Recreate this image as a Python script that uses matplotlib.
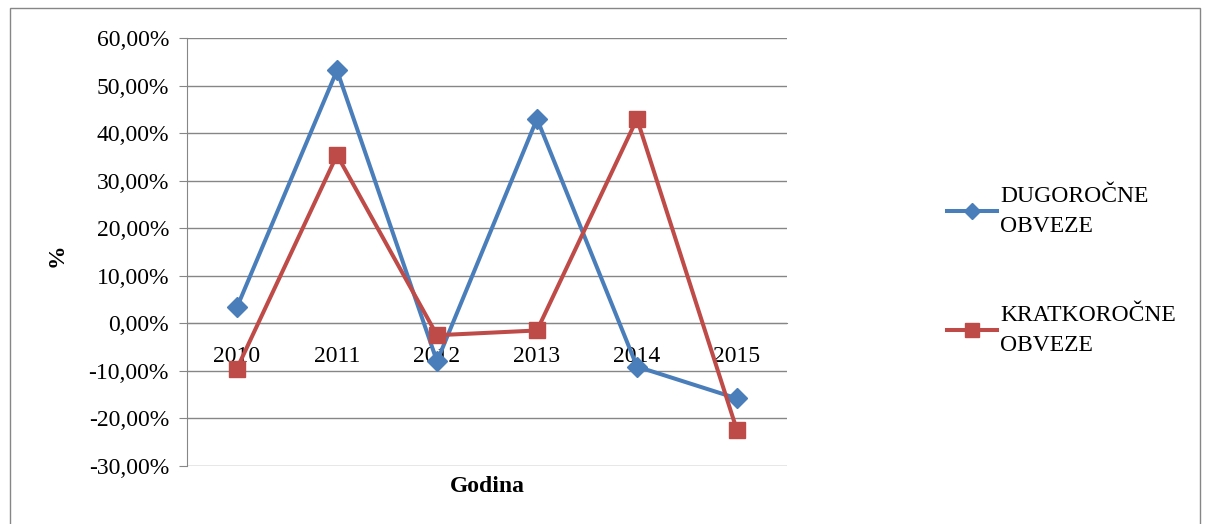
import matplotlib
matplotlib.use('Agg')
import matplotlib.pyplot as plt
from matplotlib.patches import Rectangle
from matplotlib.ticker import FuncFormatter, MultipleLocator

years = ['2010', '2011', '2012', '2013', '2014', '2015']
dugorocne = [3.4, 53.2, -8.0, 43.0, -9.1, -15.8]
kratkorocne = [-9.5, 35.4, -2.5, -1.5, 43.0, -22.5]
series_names = ['DUGOROČNE\nOBVEZE', 'KRATKOROČNE\nOBVEZE']

plt.rcParams['font.family'] = ['Liberation Serif', 'DejaVu Serif']
FS = 17

fig = plt.figure(figsize=(12.06, 5.24), dpi=100)
ax = fig.add_axes([187 / 1206, 1 - 466 / 524, 600 / 1206, 428 / 524])

x = list(range(len(years)))
ax.plot(x, dugorocne, color='#4A7EBB', lw=2.9, marker='D', ms=10,
		label=series_names[0], zorder=3)
ax.plot(x, kratkorocne, color='#BE4B48', lw=2.9, marker='s', ms=12,
		label=series_names[1], zorder=3)

ax.set_xlim(-0.5, len(years) - 0.5)
ax.set_ylim(-30, 60)
ax.yaxis.set_major_locator(MultipleLocator(10))
ax.yaxis.set_major_formatter(FuncFormatter(lambda v, p: '{:.2f}%'.format(v).replace('.', ',')))
ax.grid(axis='y', color='#868686', lw=1)
ax.set_axisbelow(True)

for s in ['top', 'right']:
	ax.spines[s].set_visible(False)
ax.spines['left'].set_color('#868686')
ax.spines['bottom'].set_position(('data', 0))
ax.spines['bottom'].set_color('#868686')

ax.set_xticks(x)
ax.set_xticklabels(years)
ax.tick_params(axis='x', length=0, pad=16, labelsize=FS)
ax.tick_params(axis='y', length=6, color='#868686', pad=7, labelsize=FS)

fig.text(57 / 1206, 1 - 255 / 524, '%', fontweight='bold', fontsize=FS,
		rotation=90, ha='center', va='center')
fig.text(487 / 1206, 1 - 487 / 524, 'Godina', fontweight='bold', fontsize=FS,
		ha='center', va='center')

leg = fig.legend(loc='upper left', bbox_to_anchor=(947 / 1206, 1 - 186 / 524),
				frameon=False, fontsize=FS, handlelength=2.1, handletextpad=0.15,
				labelspacing=2.9, borderpad=0, borderaxespad=0, markerscale=0.8)
for t in leg.get_texts():
	t.set_linespacing(1.55)

fig.add_artist(Rectangle((10 / 1206, -0.02), 1190 / 1206, 1 - 8 / 524 + 0.02,
						transform=fig.transFigure, fill=False,
						edgecolor='#868686', lw=1))

fig.savefig('out.png', dpi=100)
